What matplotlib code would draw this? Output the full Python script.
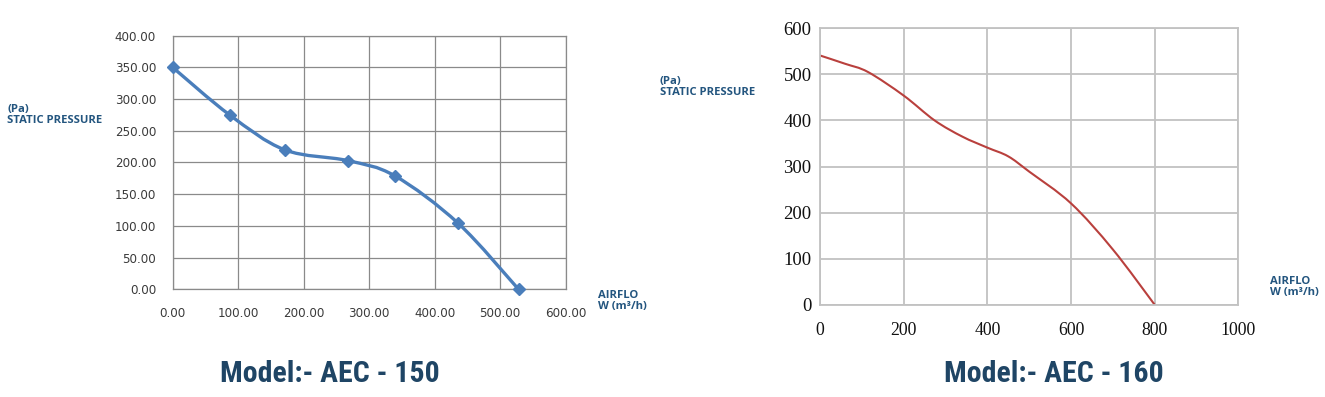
import numpy as np
import matplotlib
matplotlib.use("Agg")
import matplotlib.pyplot as plt
from matplotlib.path import Path
from matplotlib.patches import PathPatch

# -------- data --------
# Model AEC - 150 (airflow m3/h, static pressure Pa)
flow_150 = [0, 87, 171, 267, 339, 436, 528]
pressure_150 = [350, 275, 220, 203, 179, 104, 0]

# Model AEC - 160
flow_160 = [0, 60, 115, 200, 274, 340, 400, 450, 500, 600, 700, 800]
pressure_160 = [541, 523, 505, 454, 400, 365, 341, 322, 289, 220, 120, 0]

xticks_150 = [0, 100, 200, 300, 400, 500, 600]
yticks_150 = [0, 50, 100, 150, 200, 250, 300, 350, 400]
xticks_160 = [0, 200, 400, 600, 800, 1000]
yticks_160 = [0, 100, 200, 300, 400, 500, 600]

titles = ["Model:- AEC - 150", "Model:- AEC - 160"]

W, H = 1325, 397
TXT_BLUE = "#23557f"
TITLE_BLUE = "#1f4565"


def smooth_path(x, y, t=1 / 6):
    # Catmull-Rom style bezier through the points (like Excel "smoothed line")
    pts = np.column_stack([x, y]).astype(float)
    n = len(pts)
    verts = [pts[0]]
    codes = [Path.MOVETO]
    for i in range(n - 1):
        p0 = pts[max(i - 1, 0)]
        p1 = pts[i]
        p2 = pts[i + 1]
        p3 = pts[min(i + 2, n - 1)]
        verts += [p1 + (p2 - p0) * t, p2 - (p3 - p1) * t, p2]
        codes += [Path.CURVE4] * 3
    return Path(verts, codes)


def px_axes(fig, left, top, right, bottom):
    return fig.add_axes([left / W, 1 - bottom / H, (right - left) / W, (bottom - top) / H])


def ftext(fig, x, y, s, **kw):
    fig.text(x / W, 1 - y / H, s, **kw)


fig = plt.figure(figsize=(W / 100, H / 100), dpi=100)
fig.patch.set_facecolor("white")

# -------- left chart --------
ax1 = px_axes(fig, 172.7, 35.7, 565.7, 289.3)
ax1.set_xlim(0, 600)
ax1.set_ylim(0, 400)
ax1.set_xticks(xticks_150)
ax1.set_yticks(yticks_150)
ax1.set_xticklabels([f"{v:.2f}" for v in xticks_150])
ax1.set_yticklabels([f"{v:.2f}" for v in yticks_150])
ax1.grid(True, color="#8a8a8a", lw=0.9)
ax1.set_axisbelow(True)
for s in ax1.spines.values():
    s.set_color("#8a8a8a")
    s.set_linewidth(0.9)
ax1.tick_params(length=0, labelsize=8.6, labelcolor="#3a3a3a")
ax1.tick_params(axis="x", pad=13)
ax1.tick_params(axis="y", pad=12)
ax1.add_patch(PathPatch(smooth_path(flow_150, pressure_150), fill=False,
                        edgecolor="#4a7ebb", lw=2.4, capstyle="round", joinstyle="round"))
ax1.plot(flow_150, pressure_150, ls="none", marker="D", ms=6, color="#4a7ebb",
         clip_on=False, zorder=5)

# -------- right chart --------
ax2 = px_axes(fig, 820, 28.3, 1238.3, 304.7)
ax2.set_xlim(0, 1000)
ax2.set_ylim(0, 600)
ax2.set_xticks(xticks_160)
ax2.set_yticks(yticks_160)
ax2.grid(True, color="#c2c2c2", lw=1.3)
ax2.set_axisbelow(True)
for s in ax2.spines.values():
    s.set_color("#c2c2c2")
    s.set_linewidth(1.3)
ax2.tick_params(length=0, labelsize=12.8, labelcolor="#111111")
for lab in ax2.get_xticklabels():
    lab.set_fontfamily("Liberation Serif")
for lab in ax2.get_yticklabels():
    lab.set_fontfamily("Liberation Serif")
    lab.set_fontsize(13.5)
ax2.tick_params(axis="x", pad=12.5)
ax2.tick_params(axis="y", pad=6)
ax2.add_patch(PathPatch(smooth_path(flow_160, pressure_160), fill=False,
                        edgecolor="#b9403d", lw=1.5))

# -------- axis captions --------
cap = dict(color=TXT_BLUE, fontsize=8.1, fontweight="bold", family="Open Sans",
           ha="left", va="top", linespacing=1.05)
ftext(fig, 7, 104, "(Pa)\nSTATIC PRESSURE", **cap)
ftext(fig, 598, 290, "AIRFLO\nW (m³/h)", **cap)
ftext(fig, 660, 76, "(Pa)\nSTATIC PRESSURE", **cap)
ftext(fig, 1270, 276, "AIRFLO\nW (m³/h)", **cap)

# -------- model titles --------
tt = dict(color=TITLE_BLUE, fontsize=21.5, fontweight="bold",
          family=["Roboto Condensed", "Barlow Condensed", "DejaVu Sans"],
          ha="center", va="center")
ftext(fig, 330, 374, titles[0], **tt)
ftext(fig, 1054, 374, titles[1], **tt)

fig.savefig("out.png", dpi=100, facecolor="white")
